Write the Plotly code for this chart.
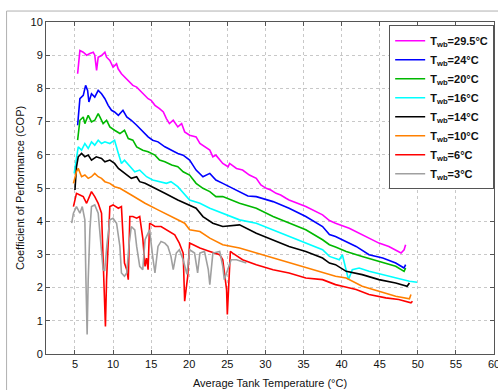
import plotly.graph_objects as go

labels = ["T<sub>wb</sub>=29.5°C", "T<sub>wb</sub>=24°C", "T<sub>wb</sub>=20°C", "T<sub>wb</sub>=16°C",
          "T<sub>wb</sub>=14°C", "T<sub>wb</sub>=10°C", "T<sub>wb</sub>=6°C", "T<sub>wb</sub>=3°C"]
colors = ["#ff00ff", "#0000ff", "#00b800", "#00ffff", "#000000", "#ff8000", "#ff0000", "#a0a0a0"]

x_295 = [5.35, 5.65, 6.09, 6.53, 6.96, 7.4, 7.6, 7.84, 8.05, 8.49, 8.93, 9.15, 9.58, 10.0, 10.46, 10.67, 11.1, 11.5,
         12.2, 12.6, 13.1, 13.5, 14.2, 14.6, 15.0, 15.5, 16.1, 16.6, 17.0, 17.4, 17.9, 18.5, 19.0, 19.4, 20.05, 20.9,
         21.4, 22.0, 22.7, 23.1, 23.5, 24.4, 25.1, 25.3, 26.2, 27.0, 27.9, 28.8, 29.4, 30.1, 30.7, 31.4, 32.0, 32.7,
         33.1, 35.3, 37.5, 38.4, 39.2, 41.0, 42.7, 44.9, 46.2, 47.8, 48.2, 48.4]
y_295 = [8.44, 9.14, 9.09, 9.0, 9.05, 9.09, 9.0, 8.54, 8.94, 8.99, 9.09, 8.94, 8.84, 8.64, 8.74, 8.59, 8.44, 8.34,
         8.19, 8.09, 8.04, 7.94, 7.79, 7.69, 7.64, 7.49, 7.39, 7.29, 7.09, 6.94, 7.04, 6.84, 6.94, 6.69, 6.59, 6.54,
         6.34, 6.24, 6.14, 5.94, 5.99, 5.74, 5.64, 5.74, 5.59, 5.54, 5.39, 5.29, 5.09, 4.99, 4.94, 4.84, 4.79, 4.69,
         4.64, 4.44, 4.19, 4.02, 3.94, 3.79, 3.59, 3.34, 3.24, 3.04, 3.14, 3.29]

x_24 = [5.35, 5.65, 6.09, 6.4, 6.66, 6.83, 7.17, 7.6, 8.05, 8.49, 8.93, 9.36, 9.8, 10.2, 10.7, 11.3, 11.8, 12.4,
        13.1, 13.7, 14.6, 15.2, 15.9, 16.8, 17.7, 18.5, 19.2, 20.05, 20.9, 21.8, 22.7, 23.5, 24.4, 25.3, 26.2, 27.0,
        27.7, 28.8, 31.0, 33.1, 35.3, 37.5, 38.4, 39.2, 40.6, 41.9, 43.6, 45.4, 47.1, 48.2, 48.4]
y_24 = [6.89, 7.69, 7.79, 8.09, 7.94, 7.59, 7.84, 7.74, 7.94, 7.84, 7.69, 7.49, 7.34, 7.29, 7.19, 7.34, 7.14, 7.04,
        6.89, 6.74, 6.54, 6.44, 6.39, 6.24, 6.14, 6.04, 5.99, 5.84, 5.54, 5.34, 5.44, 5.24, 5.14, 5.04, 4.94, 4.84,
        4.76, 4.74, 4.59, 4.39, 4.14, 3.84, 3.6, 3.54, 3.39, 3.24, 2.99, 2.89, 2.74, 2.59, 2.69]

x_20 = [5.35, 5.65, 6.09, 6.3, 6.74, 7.17, 7.6, 8.05, 8.27, 8.7, 9.15, 9.58, 10.2, 10.9, 11.5, 12.0, 12.6, 13.1,
        13.9, 14.6, 15.5, 16.1, 16.8, 17.7, 18.5, 19.2, 20.05, 20.9, 21.8, 22.7, 23.5, 24.4, 26.6, 28.8, 31.0, 33.1,
        35.3, 37.5, 38.4, 39.2, 40.6, 42.7, 44.9, 47.1, 48.2, 48.4]
y_20 = [6.44, 7.04, 7.14, 6.94, 7.19, 6.99, 7.04, 7.24, 7.14, 6.94, 7.04, 6.84, 6.74, 6.64, 6.74, 6.49, 6.44, 6.24,
        6.14, 6.09, 5.99, 5.84, 5.79, 5.69, 5.64, 5.49, 5.39, 5.14, 4.99, 4.89, 4.74, 4.74, 4.54, 4.39, 4.14, 3.94,
        3.74, 3.44, 3.29, 3.22, 3.09, 2.94, 2.79, 2.64, 2.49, 2.59]

x_16 = [4.9, 5.43, 5.87, 6.3, 6.74, 7.17, 7.6, 8.05, 8.49, 8.93, 9.58, 10.2, 10.7, 11.1, 11.5, 12.2, 12.85, 13.5,
        14.4, 15.2, 16.1, 17.0, 17.6, 18.5, 20.05, 21.4, 22.7, 24.4, 26.6, 28.8, 31.0, 33.1, 35.3, 37.5, 38.4, 39.7,
        40.1, 40.9, 41.4, 42.3, 43.6, 45.4, 47.1, 48.9, 49.9]
y_16 = [5.44, 6.24, 6.14, 6.34, 6.19, 6.39, 6.29, 6.44, 6.34, 6.39, 6.34, 6.44, 6.04, 5.74, 5.84, 5.64, 5.49, 5.54,
        5.34, 5.24, 5.19, 5.14, 5.19, 5.04, 4.64, 4.54, 4.39, 4.24, 4.04, 3.94, 3.74, 3.54, 3.34, 3.14, 2.94, 2.84,
        2.99, 2.24, 2.54, 2.59, 2.49, 2.39, 2.29, 2.19, 2.16]

x_14 = [5.0, 5.2, 5.43, 5.87, 6.3, 6.74, 7.17, 7.8, 8.49, 8.93, 9.58, 10.2, 10.7, 11.3, 11.8, 12.4, 13.1, 13.5,
        14.2, 15.0, 16.8, 18.5, 20.05, 20.9, 21.8, 23.1, 24.4, 26.6, 28.8, 31.0, 33.1, 35.3, 37.5, 38.4, 39.2, 40.6,
        42.7, 44.9, 47.1, 48.6, 48.9]
y_14 = [4.94, 5.64, 5.94, 6.04, 5.94, 5.99, 5.84, 5.94, 5.89, 5.79, 5.84, 5.74, 5.59, 5.49, 5.39, 5.29, 5.34, 5.19,
        5.14, 5.04, 4.84, 4.64, 4.49, 4.39, 4.14, 3.94, 3.84, 3.89, 3.64, 3.44, 3.24, 3.09, 2.89, 2.74, 2.69, 2.49,
        2.39, 2.24, 2.14, 2.04, 2.14]

x_10 = [4.8, 5.2, 5.43, 5.87, 6.3, 6.74, 7.17, 7.6, 8.05, 8.49, 8.93, 9.58, 10.2, 10.9, 12.4, 14.2, 15.9, 17.6,
        19.4, 20.05, 21.4, 22.7, 24.4, 26.6, 28.8, 31.0, 33.1, 35.3, 37.5, 39.2, 40.6, 42.7, 44.9, 47.1, 48.9, 49.1]
y_10 = [5.14, 5.49, 5.59, 5.34, 5.39, 5.29, 5.34, 5.44, 5.34, 5.29, 5.19, 5.14, 5.04, 4.99, 4.79, 4.54, 4.34, 4.14,
        3.94, 3.74, 3.69, 3.49, 3.29, 3.19, 3.04, 2.89, 2.74, 2.59, 2.44, 2.34, 2.29, 2.04, 1.89, 1.74, 1.66, 1.79]

x_6 = [4.8, 5.2, 5.65, 6.09, 6.53, 7.17, 7.6, 8.05, 8.49, 8.84, 9.0, 9.15, 9.36, 9.58, 10.0, 10.7, 11.1, 11.3, 11.5,
       11.8, 12.0, 12.2, 12.6, 13.1, 13.5, 13.9, 14.2, 14.4, 14.6, 14.8, 15.5, 16.3, 17.0, 18.1, 18.7, 19.2, 19.4,
       19.6, 19.8, 20.05, 21.4, 22.7, 24.0, 24.4, 24.9, 25.0, 25.2, 25.4, 25.7, 27.0, 28.8, 31.0, 33.1, 35.3, 37.5,
       39.2, 40.1, 41.9, 43.6, 45.8, 47.5, 49.1, 49.3]
y_6 = [4.44, 4.84, 4.79, 4.74, 4.54, 4.89, 4.74, 4.54, 4.24, 2.24, 0.83, 2.24, 3.24, 4.44, 4.49, 4.39, 4.44, 3.74,
       2.74, 2.54, 2.24, 4.14, 4.14, 4.09, 4.14, 3.49, 2.64, 2.89, 2.54, 3.94, 3.84, 3.84, 3.74, 3.59, 3.34, 3.04,
       1.59, 1.94, 2.34, 3.34, 3.19, 3.09, 2.99, 2.84, 1.94, 1.19, 2.14, 3.09, 3.04, 2.84, 2.69, 2.54, 2.44, 2.29,
       2.24, 2.09, 2.04, 1.94, 1.79, 1.69, 1.64, 1.54, 1.59]

x_3 = [4.57, 4.8, 5.2, 5.65, 5.96, 6.3, 6.44, 6.6, 6.74, 6.96, 7.17, 7.6, 8.05, 8.49, 8.7, 8.9, 9.2, 9.58, 10.0,
       10.46, 10.9, 11.1, 11.5, 11.8, 12.1, 12.4, 12.85, 13.1, 13.5, 13.9, 14.2, 14.6, 14.8, 15.2, 15.5, 15.9, 16.3,
       16.8, 17.2, 17.6, 17.9, 18.3, 18.7, 19.2, 19.7, 20.05, 20.7, 21.1, 21.4, 22.0, 22.5, 22.7, 22.9, 23.1, 24.0,
       24.4, 24.6, 25.0, 25.5, 26.2, 27.0, 27.5]
y_3 = [3.94, 4.24, 4.44, 4.24, 4.44, 4.04, 2.24, 0.59, 2.24, 3.74, 4.44, 4.49, 4.24, 3.24, 2.54, 2.5, 3.3, 4.04, 4.09,
       3.94, 3.24, 2.44, 2.34, 2.44, 3.3, 3.84, 3.74, 3.24, 2.64, 2.54, 3.44, 3.64, 3.74, 2.94, 2.44, 3.24, 3.39,
       3.34, 3.24, 2.94, 2.54, 3.04, 3.14, 2.84, 2.4, 3.14, 3.04, 2.44, 3.04, 3.09, 2.54, 2.09, 2.54, 3.04, 3.09,
       2.64, 2.24, 2.5, 2.84, 2.84, 2.79, 2.74]

xs = [x_295, x_24, x_20, x_16, x_14, x_10, x_6, x_3]
ys = [y_295, y_24, y_20, y_16, y_14, y_10, y_6, y_3]

x_ticks = [5, 10, 15, 20, 25, 30, 35, 40, 45, 50, 55, 60]
y_ticks = [0, 1, 2, 3, 4, 5, 6, 7, 8, 9, 10]

fig = go.Figure()
for xv, yv, name, c in zip(xs, ys, labels, colors):
    fig.add_trace(go.Scatter(x=xv, y=yv, mode="lines", name="<b>" + name + "</b>",
                             line=dict(color=c, width=1.6)))

font = "Liberation Sans, Arial, sans-serif"
fig.update_layout(
    width=498, height=390,
    margin=dict(l=46, r=4, t=22, b=36),
    paper_bgcolor="white", plot_bgcolor="white",
    font=dict(family=font, size=11, color="#111"),
    showlegend=True,
    legend=dict(x=0.766, y=0.99, xanchor="left", yanchor="top",
                bgcolor="white", bordercolor="#555", borderwidth=1,
                font=dict(size=11, color="#111"), tracegroupgap=0,
                itemwidth=30),
    xaxis=dict(range=[1.2, 60], tickvals=x_ticks, ticktext=[str(v) for v in x_ticks],
               showgrid=True, gridcolor="#c8c8c8", griddash="dot", gridwidth=1,
               showline=True, linecolor="#555", mirror="ticks", ticks="inside", ticklen=4,
               tickcolor="#555", zeroline=False, automargin=False, ticklabeloverflow="allow",
               title=dict(text="Average Tank Temperature (°C)", font=dict(size=11), standoff=10)),
    yaxis=dict(range=[0, 10], tickvals=y_ticks, ticktext=[str(v) for v in y_ticks],
               showgrid=True, gridcolor="#c8c8c8", griddash="dot", gridwidth=1,
               showline=True, linecolor="#555", mirror="ticks", ticks="inside", ticklen=4,
               tickcolor="#555", zeroline=False, automargin=False, ticklabeloverflow="allow",
               title=dict(text="Coefficient of Performance (COP)", font=dict(size=11), standoff=3)),
    shapes=[dict(type="rect", xref="paper", yref="paper", x0=-0.088, x1=1.5, y0=-1.0, y1=1.033,
                 line=dict(color="#b0b0b0", width=1), layer="below")],
)

fig.write_html("out.html", config={"displayModeBar": False},
               post_script="document.body.style.margin='0';")
